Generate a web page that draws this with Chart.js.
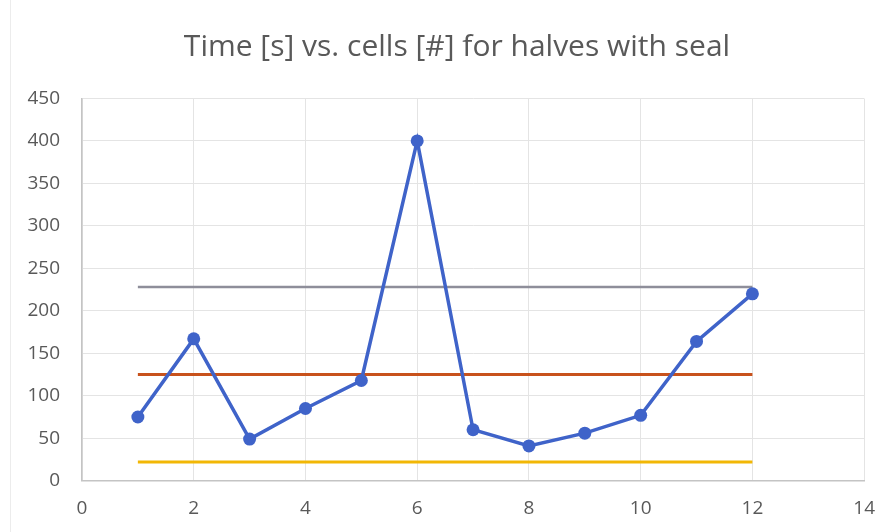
<!DOCTYPE html>
<html>
<head>
<meta charset="utf-8">
<script src="https://cdn.jsdelivr.net/npm/chart.js@4/dist/chart.umd.min.js"></script>
<style>
  html, body { margin: 0; padding: 0; background: #ffffff; }
  #wrap { position: relative; width: 891px; height: 532px; }
  #edge { position: absolute; left: 10px; top: 0; width: 0; height: 532px; border-left: 1px solid #ececec; }
  canvas { position: absolute; left: 0; top: 0; }
</style>
</head>
<body>
<div id="wrap">
  <div id="edge"></div>
  <canvas id="c" width="891" height="532"></canvas>
</div>
<script>
// ---- data ----
const titleText = "Time [s] vs. cells [#] for halves with seal";
const cells = [1, 2, 3, 4, 5, 6, 7, 8, 9, 10, 11, 12];
const times = [75, 167, 49, 85, 118, 400, 60, 41, 56, 77, 164, 220];
const lineX = [1, 12];
const upperLine = [228, 228];
const meanLine = [125, 125];
const lowerLine = [22, 22];
const xTicks = [0, 2, 4, 6, 8, 10, 12, 14];
const yTicks = [0, 50, 100, 150, 200, 250, 300, 350, 400, 450];

function pts(xs, ys) { return xs.map((x, i) => ({ x: x, y: ys[i] })); }

const tickColor = '#595959';
const gridColor = '#e4e4e4';
const axisColor = '#c4c4c4';
const font = "'Open Sans', 'Liberation Sans', sans-serif";

// shift the title box so it is centred like the reference
const titleShift = {
  id: 'titleShift',
  afterLayout(chart) {
    const t = chart.titleBlock;
    if (t) { t.left += 19; t.right += 19; }
  }
};

new Chart(document.getElementById('c'), {
  type: 'scatter',
  data: {
    datasets: [
      { label: 'Upper', data: pts(lineX, upperLine), showLine: true, borderColor: '#8e8e9a', borderWidth: 2.5, pointRadius: 0, order: 3 },
      { label: 'Mean', data: pts(lineX, meanLine), showLine: true, borderColor: '#c8521c', borderWidth: 3, pointRadius: 0, order: 2 },
      { label: 'Lower', data: pts(lineX, lowerLine), showLine: true, borderColor: '#f2b705', borderWidth: 3, pointRadius: 0, order: 4 },
      { label: 'Time', data: pts(cells, times), showLine: true, borderColor: '#3f63c9', backgroundColor: '#3f63c9',
        borderWidth: 3.5, pointRadius: 6.5, pointBorderWidth: 0, pointBackgroundColor: '#3f63c9', order: 1 }
    ]
  },
  plugins: [titleShift],
  options: {
    responsive: false,
    animation: false,
    events: [],
    layout: { padding: { left: 10, right: 25, top: 0, bottom: 0 } },
    plugins: {
      legend: { display: false },
      tooltip: { enabled: false },
      title: {
        display: true,
        text: titleText,
        color: tickColor,
        font: { family: font, size: 30, weight: 'normal', lineHeight: 1.2 },
        padding: { top: 29.4, bottom: 33.1 }
      }
    },
    scales: {
      x: {
        type: 'linear',
        min: 0, max: 14,
        afterBuildTicks: (s) => { s.ticks = xTicks.map(v => ({ value: v })); },
        afterFit: (s) => { s.height = 51.3; },
        grid: { color: gridColor, lineWidth: 1, drawTicks: false },
        border: { display: true, color: axisColor, width: 1.5 },
        ticks: { color: tickColor, padding: 16, font: { family: font, size: 19 } }
      },
      y: {
        type: 'linear',
        min: 0, max: 450,
        afterBuildTicks: (s) => { s.ticks = yTicks.map(v => ({ value: v })); },
        afterFit: (s) => { s.width = 72; },
        grid: { color: gridColor, lineWidth: 1, drawTicks: false },
        border: { display: true, color: axisColor, width: 1.5 },
        ticks: { color: tickColor, padding: 22, font: { family: font, size: 19 } }
      }
    }
  }
});
</script>
</body>
</html>
